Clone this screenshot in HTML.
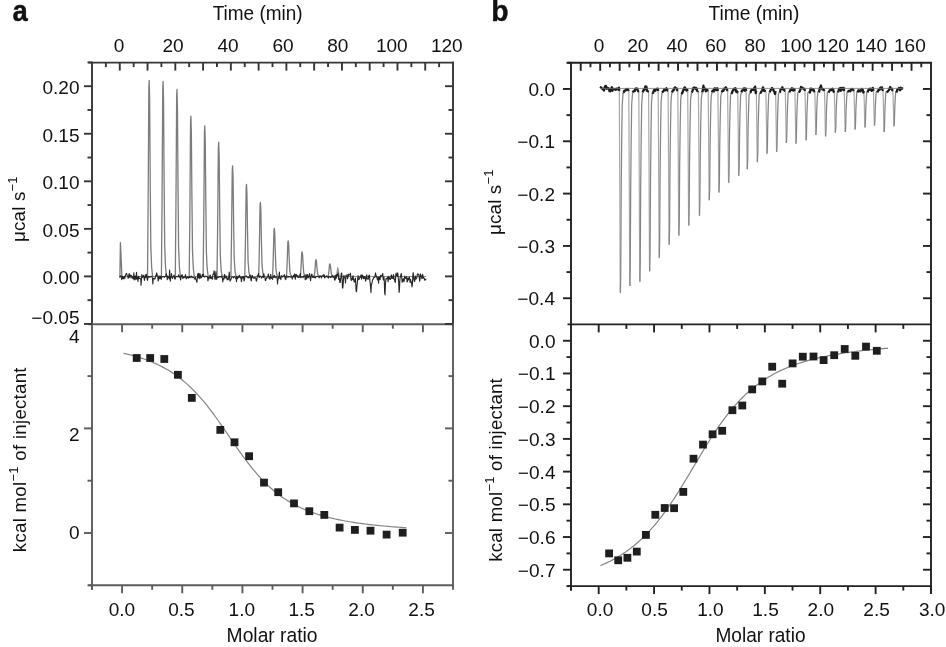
<!DOCTYPE html>
<html><head><meta charset="utf-8"><style>
html,body{margin:0;padding:0;background:#fff;}
svg{display:block;filter:blur(0.35px);}
text{font-family:"Liberation Sans", sans-serif;}
</style></head><body>
<svg width="946" height="647" viewBox="0 0 946 647">
<rect width="946" height="647" fill="#fff"/>
<g stroke-linecap="butt">
<line x1="88.50" y1="62.60" x2="453.90" y2="62.60" stroke="#363636" stroke-width="1.9" />
<line x1="92.00" y1="61.70" x2="92.00" y2="324.20" stroke="#363636" stroke-width="1.9" />
<line x1="453.00" y1="61.70" x2="453.00" y2="324.20" stroke="#363636" stroke-width="1.9" />
<line x1="92.00" y1="324.20" x2="92.00" y2="589.80" stroke="#5c5c5c" stroke-width="1.9" />
<line x1="453.00" y1="324.20" x2="453.00" y2="586.20" stroke="#5c5c5c" stroke-width="1.9" />
<line x1="88.50" y1="324.20" x2="453.90" y2="324.20" stroke="#5c5c5c" stroke-width="1.9" />
<line x1="88.50" y1="585.30" x2="453.90" y2="585.30" stroke="#5c5c5c" stroke-width="1.9" />
<line x1="105.88" y1="62.60" x2="105.88" y2="67.10" stroke="#363636" stroke-width="1.9" />
<line x1="119.77" y1="62.60" x2="119.77" y2="70.60" stroke="#363636" stroke-width="1.9" />
<line x1="133.65" y1="62.60" x2="133.65" y2="67.10" stroke="#363636" stroke-width="1.9" />
<line x1="147.54" y1="62.60" x2="147.54" y2="70.60" stroke="#363636" stroke-width="1.9" />
<line x1="161.42" y1="62.60" x2="161.42" y2="67.10" stroke="#363636" stroke-width="1.9" />
<line x1="175.31" y1="62.60" x2="175.31" y2="70.60" stroke="#363636" stroke-width="1.9" />
<line x1="189.19" y1="62.60" x2="189.19" y2="67.10" stroke="#363636" stroke-width="1.9" />
<line x1="203.08" y1="62.60" x2="203.08" y2="70.60" stroke="#363636" stroke-width="1.9" />
<line x1="216.96" y1="62.60" x2="216.96" y2="67.10" stroke="#363636" stroke-width="1.9" />
<line x1="230.85" y1="62.60" x2="230.85" y2="70.60" stroke="#363636" stroke-width="1.9" />
<line x1="244.73" y1="62.60" x2="244.73" y2="67.10" stroke="#363636" stroke-width="1.9" />
<line x1="258.62" y1="62.60" x2="258.62" y2="70.60" stroke="#363636" stroke-width="1.9" />
<line x1="272.50" y1="62.60" x2="272.50" y2="67.10" stroke="#363636" stroke-width="1.9" />
<line x1="286.38" y1="62.60" x2="286.38" y2="70.60" stroke="#363636" stroke-width="1.9" />
<line x1="300.27" y1="62.60" x2="300.27" y2="67.10" stroke="#363636" stroke-width="1.9" />
<line x1="314.15" y1="62.60" x2="314.15" y2="70.60" stroke="#363636" stroke-width="1.9" />
<line x1="328.04" y1="62.60" x2="328.04" y2="67.10" stroke="#363636" stroke-width="1.9" />
<line x1="341.92" y1="62.60" x2="341.92" y2="70.60" stroke="#363636" stroke-width="1.9" />
<line x1="355.81" y1="62.60" x2="355.81" y2="67.10" stroke="#363636" stroke-width="1.9" />
<line x1="369.69" y1="62.60" x2="369.69" y2="70.60" stroke="#363636" stroke-width="1.9" />
<line x1="383.58" y1="62.60" x2="383.58" y2="67.10" stroke="#363636" stroke-width="1.9" />
<line x1="397.46" y1="62.60" x2="397.46" y2="70.60" stroke="#363636" stroke-width="1.9" />
<line x1="411.35" y1="62.60" x2="411.35" y2="67.10" stroke="#363636" stroke-width="1.9" />
<line x1="425.23" y1="62.60" x2="425.23" y2="70.60" stroke="#363636" stroke-width="1.9" />
<line x1="439.12" y1="62.60" x2="439.12" y2="67.10" stroke="#363636" stroke-width="1.9" />
<line x1="84.00" y1="323.95" x2="92.00" y2="323.95" stroke="#363636" stroke-width="1.9" />
<line x1="445.00" y1="323.95" x2="453.00" y2="323.95" stroke="#363636" stroke-width="1.9" />
<line x1="87.50" y1="300.17" x2="92.00" y2="300.17" stroke="#363636" stroke-width="1.9" />
<line x1="448.50" y1="300.17" x2="453.00" y2="300.17" stroke="#363636" stroke-width="1.9" />
<line x1="84.00" y1="276.40" x2="92.00" y2="276.40" stroke="#363636" stroke-width="1.9" />
<line x1="445.00" y1="276.40" x2="453.00" y2="276.40" stroke="#363636" stroke-width="1.9" />
<line x1="87.50" y1="252.62" x2="92.00" y2="252.62" stroke="#363636" stroke-width="1.9" />
<line x1="448.50" y1="252.62" x2="453.00" y2="252.62" stroke="#363636" stroke-width="1.9" />
<line x1="84.00" y1="228.85" x2="92.00" y2="228.85" stroke="#363636" stroke-width="1.9" />
<line x1="445.00" y1="228.85" x2="453.00" y2="228.85" stroke="#363636" stroke-width="1.9" />
<line x1="87.50" y1="205.07" x2="92.00" y2="205.07" stroke="#363636" stroke-width="1.9" />
<line x1="448.50" y1="205.07" x2="453.00" y2="205.07" stroke="#363636" stroke-width="1.9" />
<line x1="84.00" y1="181.30" x2="92.00" y2="181.30" stroke="#363636" stroke-width="1.9" />
<line x1="445.00" y1="181.30" x2="453.00" y2="181.30" stroke="#363636" stroke-width="1.9" />
<line x1="87.50" y1="157.52" x2="92.00" y2="157.52" stroke="#363636" stroke-width="1.9" />
<line x1="448.50" y1="157.52" x2="453.00" y2="157.52" stroke="#363636" stroke-width="1.9" />
<line x1="84.00" y1="133.75" x2="92.00" y2="133.75" stroke="#363636" stroke-width="1.9" />
<line x1="445.00" y1="133.75" x2="453.00" y2="133.75" stroke="#363636" stroke-width="1.9" />
<line x1="87.50" y1="109.97" x2="92.00" y2="109.97" stroke="#363636" stroke-width="1.9" />
<line x1="448.50" y1="109.97" x2="453.00" y2="109.97" stroke="#363636" stroke-width="1.9" />
<line x1="84.00" y1="86.20" x2="92.00" y2="86.20" stroke="#363636" stroke-width="1.9" />
<line x1="445.00" y1="86.20" x2="453.00" y2="86.20" stroke="#363636" stroke-width="1.9" />
<line x1="87.50" y1="62.42" x2="92.00" y2="62.42" stroke="#363636" stroke-width="1.9" />
<line x1="92.00" y1="585.30" x2="92.00" y2="589.80" stroke="#5c5c5c" stroke-width="1.9" />
<line x1="122.08" y1="324.20" x2="122.08" y2="332.20" stroke="#5c5c5c" stroke-width="1.9" />
<line x1="122.08" y1="585.30" x2="122.08" y2="593.30" stroke="#5c5c5c" stroke-width="1.9" />
<line x1="152.17" y1="324.20" x2="152.17" y2="328.70" stroke="#5c5c5c" stroke-width="1.9" />
<line x1="152.17" y1="585.30" x2="152.17" y2="589.80" stroke="#5c5c5c" stroke-width="1.9" />
<line x1="182.25" y1="324.20" x2="182.25" y2="332.20" stroke="#5c5c5c" stroke-width="1.9" />
<line x1="182.25" y1="585.30" x2="182.25" y2="593.30" stroke="#5c5c5c" stroke-width="1.9" />
<line x1="212.33" y1="324.20" x2="212.33" y2="328.70" stroke="#5c5c5c" stroke-width="1.9" />
<line x1="212.33" y1="585.30" x2="212.33" y2="589.80" stroke="#5c5c5c" stroke-width="1.9" />
<line x1="242.42" y1="324.20" x2="242.42" y2="332.20" stroke="#5c5c5c" stroke-width="1.9" />
<line x1="242.42" y1="585.30" x2="242.42" y2="593.30" stroke="#5c5c5c" stroke-width="1.9" />
<line x1="272.50" y1="324.20" x2="272.50" y2="328.70" stroke="#5c5c5c" stroke-width="1.9" />
<line x1="272.50" y1="585.30" x2="272.50" y2="589.80" stroke="#5c5c5c" stroke-width="1.9" />
<line x1="302.58" y1="324.20" x2="302.58" y2="332.20" stroke="#5c5c5c" stroke-width="1.9" />
<line x1="302.58" y1="585.30" x2="302.58" y2="593.30" stroke="#5c5c5c" stroke-width="1.9" />
<line x1="332.67" y1="324.20" x2="332.67" y2="328.70" stroke="#5c5c5c" stroke-width="1.9" />
<line x1="332.67" y1="585.30" x2="332.67" y2="589.80" stroke="#5c5c5c" stroke-width="1.9" />
<line x1="362.75" y1="324.20" x2="362.75" y2="332.20" stroke="#5c5c5c" stroke-width="1.9" />
<line x1="362.75" y1="585.30" x2="362.75" y2="593.30" stroke="#5c5c5c" stroke-width="1.9" />
<line x1="392.83" y1="324.20" x2="392.83" y2="328.70" stroke="#5c5c5c" stroke-width="1.9" />
<line x1="392.83" y1="585.30" x2="392.83" y2="589.80" stroke="#5c5c5c" stroke-width="1.9" />
<line x1="422.92" y1="324.20" x2="422.92" y2="332.20" stroke="#5c5c5c" stroke-width="1.9" />
<line x1="422.92" y1="585.30" x2="422.92" y2="593.30" stroke="#5c5c5c" stroke-width="1.9" />
<line x1="453.00" y1="585.30" x2="453.00" y2="589.80" stroke="#5c5c5c" stroke-width="1.9" />
<line x1="87.50" y1="585.30" x2="92.00" y2="585.30" stroke="#5c5c5c" stroke-width="1.9" />
<line x1="84.00" y1="533.00" x2="92.00" y2="533.00" stroke="#5c5c5c" stroke-width="1.9" />
<line x1="445.00" y1="533.00" x2="453.00" y2="533.00" stroke="#5c5c5c" stroke-width="1.9" />
<line x1="87.50" y1="480.70" x2="92.00" y2="480.70" stroke="#5c5c5c" stroke-width="1.9" />
<line x1="448.50" y1="480.70" x2="453.00" y2="480.70" stroke="#5c5c5c" stroke-width="1.9" />
<line x1="84.00" y1="428.40" x2="92.00" y2="428.40" stroke="#5c5c5c" stroke-width="1.9" />
<line x1="445.00" y1="428.40" x2="453.00" y2="428.40" stroke="#5c5c5c" stroke-width="1.9" />
<line x1="87.50" y1="376.10" x2="92.00" y2="376.10" stroke="#5c5c5c" stroke-width="1.9" />
<line x1="448.50" y1="376.10" x2="453.00" y2="376.10" stroke="#5c5c5c" stroke-width="1.9" />
</g>
<g stroke-linecap="butt">
<line x1="567.50" y1="62.80" x2="931.90" y2="62.80" stroke="#222" stroke-width="1.9" />
<line x1="571.00" y1="61.90" x2="571.00" y2="590.60" stroke="#222" stroke-width="1.9" />
<line x1="931.00" y1="61.90" x2="931.00" y2="593.60" stroke="#222" stroke-width="1.9" />
<line x1="567.50" y1="324.40" x2="931.90" y2="324.40" stroke="#222" stroke-width="1.9" />
<line x1="567.50" y1="586.10" x2="931.90" y2="586.10" stroke="#222" stroke-width="1.9" />
<line x1="580.73" y1="62.80" x2="580.73" y2="70.80" stroke="#222" stroke-width="1.9" />
<line x1="590.46" y1="62.80" x2="590.46" y2="67.30" stroke="#222" stroke-width="1.9" />
<line x1="600.19" y1="62.80" x2="600.19" y2="70.80" stroke="#222" stroke-width="1.9" />
<line x1="609.92" y1="62.80" x2="609.92" y2="67.30" stroke="#222" stroke-width="1.9" />
<line x1="619.65" y1="62.80" x2="619.65" y2="70.80" stroke="#222" stroke-width="1.9" />
<line x1="629.38" y1="62.80" x2="629.38" y2="67.30" stroke="#222" stroke-width="1.9" />
<line x1="639.11" y1="62.80" x2="639.11" y2="70.80" stroke="#222" stroke-width="1.9" />
<line x1="648.84" y1="62.80" x2="648.84" y2="67.30" stroke="#222" stroke-width="1.9" />
<line x1="658.57" y1="62.80" x2="658.57" y2="70.80" stroke="#222" stroke-width="1.9" />
<line x1="668.30" y1="62.80" x2="668.30" y2="67.30" stroke="#222" stroke-width="1.9" />
<line x1="678.03" y1="62.80" x2="678.03" y2="70.80" stroke="#222" stroke-width="1.9" />
<line x1="687.76" y1="62.80" x2="687.76" y2="67.30" stroke="#222" stroke-width="1.9" />
<line x1="697.49" y1="62.80" x2="697.49" y2="70.80" stroke="#222" stroke-width="1.9" />
<line x1="707.22" y1="62.80" x2="707.22" y2="67.30" stroke="#222" stroke-width="1.9" />
<line x1="716.95" y1="62.80" x2="716.95" y2="70.80" stroke="#222" stroke-width="1.9" />
<line x1="726.68" y1="62.80" x2="726.68" y2="67.30" stroke="#222" stroke-width="1.9" />
<line x1="736.41" y1="62.80" x2="736.41" y2="70.80" stroke="#222" stroke-width="1.9" />
<line x1="746.14" y1="62.80" x2="746.14" y2="67.30" stroke="#222" stroke-width="1.9" />
<line x1="755.86" y1="62.80" x2="755.86" y2="70.80" stroke="#222" stroke-width="1.9" />
<line x1="765.59" y1="62.80" x2="765.59" y2="67.30" stroke="#222" stroke-width="1.9" />
<line x1="775.32" y1="62.80" x2="775.32" y2="70.80" stroke="#222" stroke-width="1.9" />
<line x1="785.05" y1="62.80" x2="785.05" y2="67.30" stroke="#222" stroke-width="1.9" />
<line x1="794.78" y1="62.80" x2="794.78" y2="70.80" stroke="#222" stroke-width="1.9" />
<line x1="804.51" y1="62.80" x2="804.51" y2="67.30" stroke="#222" stroke-width="1.9" />
<line x1="814.24" y1="62.80" x2="814.24" y2="70.80" stroke="#222" stroke-width="1.9" />
<line x1="823.97" y1="62.80" x2="823.97" y2="67.30" stroke="#222" stroke-width="1.9" />
<line x1="833.70" y1="62.80" x2="833.70" y2="70.80" stroke="#222" stroke-width="1.9" />
<line x1="843.43" y1="62.80" x2="843.43" y2="67.30" stroke="#222" stroke-width="1.9" />
<line x1="853.16" y1="62.80" x2="853.16" y2="70.80" stroke="#222" stroke-width="1.9" />
<line x1="862.89" y1="62.80" x2="862.89" y2="67.30" stroke="#222" stroke-width="1.9" />
<line x1="872.62" y1="62.80" x2="872.62" y2="70.80" stroke="#222" stroke-width="1.9" />
<line x1="882.35" y1="62.80" x2="882.35" y2="67.30" stroke="#222" stroke-width="1.9" />
<line x1="892.08" y1="62.80" x2="892.08" y2="70.80" stroke="#222" stroke-width="1.9" />
<line x1="901.81" y1="62.80" x2="901.81" y2="67.30" stroke="#222" stroke-width="1.9" />
<line x1="911.54" y1="62.80" x2="911.54" y2="70.80" stroke="#222" stroke-width="1.9" />
<line x1="921.27" y1="62.80" x2="921.27" y2="67.30" stroke="#222" stroke-width="1.9" />
<line x1="563.00" y1="298.24" x2="571.00" y2="298.24" stroke="#222" stroke-width="1.9" />
<line x1="923.00" y1="298.24" x2="931.00" y2="298.24" stroke="#222" stroke-width="1.9" />
<line x1="566.50" y1="272.08" x2="571.00" y2="272.08" stroke="#222" stroke-width="1.9" />
<line x1="926.50" y1="272.08" x2="931.00" y2="272.08" stroke="#222" stroke-width="1.9" />
<line x1="563.00" y1="245.92" x2="571.00" y2="245.92" stroke="#222" stroke-width="1.9" />
<line x1="923.00" y1="245.92" x2="931.00" y2="245.92" stroke="#222" stroke-width="1.9" />
<line x1="566.50" y1="219.76" x2="571.00" y2="219.76" stroke="#222" stroke-width="1.9" />
<line x1="926.50" y1="219.76" x2="931.00" y2="219.76" stroke="#222" stroke-width="1.9" />
<line x1="563.00" y1="193.60" x2="571.00" y2="193.60" stroke="#222" stroke-width="1.9" />
<line x1="923.00" y1="193.60" x2="931.00" y2="193.60" stroke="#222" stroke-width="1.9" />
<line x1="566.50" y1="167.44" x2="571.00" y2="167.44" stroke="#222" stroke-width="1.9" />
<line x1="926.50" y1="167.44" x2="931.00" y2="167.44" stroke="#222" stroke-width="1.9" />
<line x1="563.00" y1="141.28" x2="571.00" y2="141.28" stroke="#222" stroke-width="1.9" />
<line x1="923.00" y1="141.28" x2="931.00" y2="141.28" stroke="#222" stroke-width="1.9" />
<line x1="566.50" y1="115.12" x2="571.00" y2="115.12" stroke="#222" stroke-width="1.9" />
<line x1="926.50" y1="115.12" x2="931.00" y2="115.12" stroke="#222" stroke-width="1.9" />
<line x1="563.00" y1="88.96" x2="571.00" y2="88.96" stroke="#222" stroke-width="1.9" />
<line x1="923.00" y1="88.96" x2="931.00" y2="88.96" stroke="#222" stroke-width="1.9" />
<line x1="566.50" y1="62.80" x2="571.00" y2="62.80" stroke="#222" stroke-width="1.9" />
<line x1="571.00" y1="586.10" x2="571.00" y2="590.60" stroke="#222" stroke-width="1.9" />
<line x1="598.69" y1="324.40" x2="598.69" y2="332.40" stroke="#222" stroke-width="1.9" />
<line x1="598.69" y1="586.10" x2="598.69" y2="594.10" stroke="#222" stroke-width="1.9" />
<line x1="626.38" y1="324.40" x2="626.38" y2="328.90" stroke="#222" stroke-width="1.9" />
<line x1="626.38" y1="586.10" x2="626.38" y2="590.60" stroke="#222" stroke-width="1.9" />
<line x1="654.08" y1="324.40" x2="654.08" y2="332.40" stroke="#222" stroke-width="1.9" />
<line x1="654.08" y1="586.10" x2="654.08" y2="594.10" stroke="#222" stroke-width="1.9" />
<line x1="681.77" y1="324.40" x2="681.77" y2="328.90" stroke="#222" stroke-width="1.9" />
<line x1="681.77" y1="586.10" x2="681.77" y2="590.60" stroke="#222" stroke-width="1.9" />
<line x1="709.46" y1="324.40" x2="709.46" y2="332.40" stroke="#222" stroke-width="1.9" />
<line x1="709.46" y1="586.10" x2="709.46" y2="594.10" stroke="#222" stroke-width="1.9" />
<line x1="737.15" y1="324.40" x2="737.15" y2="328.90" stroke="#222" stroke-width="1.9" />
<line x1="737.15" y1="586.10" x2="737.15" y2="590.60" stroke="#222" stroke-width="1.9" />
<line x1="764.85" y1="324.40" x2="764.85" y2="332.40" stroke="#222" stroke-width="1.9" />
<line x1="764.85" y1="586.10" x2="764.85" y2="594.10" stroke="#222" stroke-width="1.9" />
<line x1="792.54" y1="324.40" x2="792.54" y2="328.90" stroke="#222" stroke-width="1.9" />
<line x1="792.54" y1="586.10" x2="792.54" y2="590.60" stroke="#222" stroke-width="1.9" />
<line x1="820.23" y1="324.40" x2="820.23" y2="332.40" stroke="#222" stroke-width="1.9" />
<line x1="820.23" y1="586.10" x2="820.23" y2="594.10" stroke="#222" stroke-width="1.9" />
<line x1="847.92" y1="324.40" x2="847.92" y2="328.90" stroke="#222" stroke-width="1.9" />
<line x1="847.92" y1="586.10" x2="847.92" y2="590.60" stroke="#222" stroke-width="1.9" />
<line x1="875.62" y1="324.40" x2="875.62" y2="332.40" stroke="#222" stroke-width="1.9" />
<line x1="875.62" y1="586.10" x2="875.62" y2="594.10" stroke="#222" stroke-width="1.9" />
<line x1="903.31" y1="324.40" x2="903.31" y2="328.90" stroke="#222" stroke-width="1.9" />
<line x1="903.31" y1="586.10" x2="903.31" y2="590.60" stroke="#222" stroke-width="1.9" />
<line x1="931.00" y1="586.10" x2="931.00" y2="594.10" stroke="#222" stroke-width="1.9" />
<line x1="566.50" y1="586.10" x2="571.00" y2="586.10" stroke="#222" stroke-width="1.9" />
<line x1="563.00" y1="569.74" x2="571.00" y2="569.74" stroke="#222" stroke-width="1.9" />
<line x1="923.00" y1="569.74" x2="931.00" y2="569.74" stroke="#222" stroke-width="1.9" />
<line x1="566.50" y1="553.39" x2="571.00" y2="553.39" stroke="#222" stroke-width="1.9" />
<line x1="926.50" y1="553.39" x2="931.00" y2="553.39" stroke="#222" stroke-width="1.9" />
<line x1="563.00" y1="537.03" x2="571.00" y2="537.03" stroke="#222" stroke-width="1.9" />
<line x1="923.00" y1="537.03" x2="931.00" y2="537.03" stroke="#222" stroke-width="1.9" />
<line x1="566.50" y1="520.67" x2="571.00" y2="520.67" stroke="#222" stroke-width="1.9" />
<line x1="926.50" y1="520.67" x2="931.00" y2="520.67" stroke="#222" stroke-width="1.9" />
<line x1="563.00" y1="504.32" x2="571.00" y2="504.32" stroke="#222" stroke-width="1.9" />
<line x1="923.00" y1="504.32" x2="931.00" y2="504.32" stroke="#222" stroke-width="1.9" />
<line x1="566.50" y1="487.96" x2="571.00" y2="487.96" stroke="#222" stroke-width="1.9" />
<line x1="926.50" y1="487.96" x2="931.00" y2="487.96" stroke="#222" stroke-width="1.9" />
<line x1="563.00" y1="471.61" x2="571.00" y2="471.61" stroke="#222" stroke-width="1.9" />
<line x1="923.00" y1="471.61" x2="931.00" y2="471.61" stroke="#222" stroke-width="1.9" />
<line x1="566.50" y1="455.25" x2="571.00" y2="455.25" stroke="#222" stroke-width="1.9" />
<line x1="926.50" y1="455.25" x2="931.00" y2="455.25" stroke="#222" stroke-width="1.9" />
<line x1="563.00" y1="438.89" x2="571.00" y2="438.89" stroke="#222" stroke-width="1.9" />
<line x1="923.00" y1="438.89" x2="931.00" y2="438.89" stroke="#222" stroke-width="1.9" />
<line x1="566.50" y1="422.54" x2="571.00" y2="422.54" stroke="#222" stroke-width="1.9" />
<line x1="926.50" y1="422.54" x2="931.00" y2="422.54" stroke="#222" stroke-width="1.9" />
<line x1="563.00" y1="406.18" x2="571.00" y2="406.18" stroke="#222" stroke-width="1.9" />
<line x1="923.00" y1="406.18" x2="931.00" y2="406.18" stroke="#222" stroke-width="1.9" />
<line x1="566.50" y1="389.82" x2="571.00" y2="389.82" stroke="#222" stroke-width="1.9" />
<line x1="926.50" y1="389.82" x2="931.00" y2="389.82" stroke="#222" stroke-width="1.9" />
<line x1="563.00" y1="373.47" x2="571.00" y2="373.47" stroke="#222" stroke-width="1.9" />
<line x1="923.00" y1="373.47" x2="931.00" y2="373.47" stroke="#222" stroke-width="1.9" />
<line x1="566.50" y1="357.11" x2="571.00" y2="357.11" stroke="#222" stroke-width="1.9" />
<line x1="926.50" y1="357.11" x2="931.00" y2="357.11" stroke="#222" stroke-width="1.9" />
<line x1="563.00" y1="340.76" x2="571.00" y2="340.76" stroke="#222" stroke-width="1.9" />
<line x1="923.00" y1="340.76" x2="931.00" y2="340.76" stroke="#222" stroke-width="1.9" />
</g>
<path d="M147.50,277.00 L148.10,207.90 L148.85,88.34 L149.20,80.50 L149.65,100.10 L150.20,178.50 L150.80,245.14 L151.60,266.70 L152.60,276.50" fill="none" stroke="#7c7c7c" stroke-width="1.3" stroke-linejoin="round" />
<path d="M161.40,277.00 L162.00,208.25 L162.75,89.30 L163.10,81.50 L163.55,101.00 L164.10,179.00 L164.70,245.30 L165.50,266.75 L166.50,276.50" fill="none" stroke="#7c7c7c" stroke-width="1.3" stroke-linejoin="round" />
<path d="M175.30,277.00 L175.90,211.05 L176.65,96.98 L177.00,89.50 L177.45,108.20 L178.00,183.00 L178.60,246.58 L179.40,267.15 L180.40,276.50" fill="none" stroke="#7c7c7c" stroke-width="1.3" stroke-linejoin="round" />
<path d="M189.20,277.00 L189.80,220.40 L190.55,122.61 L190.90,116.20 L191.35,132.23 L191.90,196.35 L192.50,250.85 L193.30,268.49 L194.30,276.50" fill="none" stroke="#7c7c7c" stroke-width="1.3" stroke-linejoin="round" />
<path d="M203.10,277.00 L203.70,223.75 L204.45,131.83 L204.80,125.80 L205.25,140.87 L205.80,201.15 L206.40,252.39 L207.20,268.96 L208.20,276.50" fill="none" stroke="#7c7c7c" stroke-width="1.3" stroke-linejoin="round" />
<path d="M217.00,277.00 L217.60,229.50 L218.35,147.57 L218.70,142.20 L219.15,155.63 L219.70,209.35 L220.30,255.01 L221.10,269.79 L222.10,276.50" fill="none" stroke="#7c7c7c" stroke-width="1.3" stroke-linejoin="round" />
<path d="M230.90,277.00 L231.50,237.75 L232.25,170.23 L232.60,165.80 L233.05,176.87 L233.60,221.15 L234.20,258.79 L235.00,270.96 L236.00,276.50" fill="none" stroke="#7c7c7c" stroke-width="1.3" stroke-linejoin="round" />
<path d="M244.80,277.00 L245.40,244.23 L246.15,187.99 L246.50,184.30 L246.95,193.52 L247.50,230.40 L248.10,261.75 L248.90,271.89 L249.90,276.50" fill="none" stroke="#7c7c7c" stroke-width="1.3" stroke-linejoin="round" />
<path d="M258.70,277.00 L259.30,250.60 L260.05,205.46 L260.40,202.50 L260.85,209.90 L261.40,239.50 L262.00,264.66 L262.80,272.80 L263.80,276.50" fill="none" stroke="#7c7c7c" stroke-width="1.3" stroke-linejoin="round" />
<path d="M272.60,277.00 L273.20,259.63 L273.95,230.23 L274.30,228.30 L274.75,233.12 L275.30,252.40 L275.90,268.79 L276.70,274.09 L277.70,276.50" fill="none" stroke="#7c7c7c" stroke-width="1.3" stroke-linejoin="round" />
<path d="M286.50,277.00 L287.10,264.00 L287.85,242.23 L288.20,240.80 L288.65,244.37 L289.20,258.65 L289.80,270.79 L290.60,274.71 L291.60,276.50" fill="none" stroke="#7c7c7c" stroke-width="1.3" stroke-linejoin="round" />
<path d="M300.40,277.00 L301.00,267.86 L301.75,252.79 L302.10,251.80 L302.55,254.27 L303.10,264.15 L303.70,272.55 L304.50,275.26 L305.50,276.50" fill="none" stroke="#7c7c7c" stroke-width="1.3" stroke-linejoin="round" />
<path d="M314.30,277.00 L314.90,270.62 L315.65,260.37 L316.00,259.70 L316.45,261.38 L317.00,268.10 L317.60,273.81 L318.40,275.66 L319.40,276.50" fill="none" stroke="#7c7c7c" stroke-width="1.3" stroke-linejoin="round" />
<path d="M328.20,277.00 L328.80,272.09 L329.55,264.40 L329.90,263.90 L330.35,265.16 L330.90,270.20 L331.50,274.48 L332.30,275.87 L333.30,276.50" fill="none" stroke="#7c7c7c" stroke-width="1.3" stroke-linejoin="round" />
<path d="M336.60,276.50 L337.40,270.00 L337.80,267.90 L338.40,271.00 L339.30,276.50" fill="none" stroke="#8c8c8c" stroke-width="1.2" stroke-linejoin="round" />
<path d="M119.90,277.50 L120.40,242.60 L121.00,255.00 L121.90,276.50" fill="none" stroke="#7a7a7a" stroke-width="1.3" stroke-linejoin="round" />
<line x1="119.80" y1="276.50" x2="426.20" y2="276.50" stroke="#777" stroke-width="0.8" />
<path d="M119.80,277.73 L120.18,276.14 L120.56,275.89 L120.94,275.76 L121.32,276.45 L121.70,279.58 L122.08,278.84 L122.46,276.21 L122.84,277.52 L123.22,278.84 L123.60,278.32 L123.98,276.59 L124.36,276.27 L124.74,278.59 L125.12,276.83 L125.50,275.28 L125.88,274.53 L126.26,273.41 L126.64,273.49 L127.02,274.91 L127.40,275.68 L127.78,276.36 L128.16,278.28 L128.54,277.66 L128.92,274.07 L129.30,273.59 L129.68,276.91 L130.06,277.79 L130.44,275.80 L130.82,275.00 L131.20,275.74 L131.58,275.67 L131.96,278.04 L132.34,278.04 L132.72,276.57 L133.10,278.84 L133.48,278.10 L133.86,272.68 L134.24,279.97 L134.62,277.93 L135.00,276.14 L135.38,276.16 L135.76,279.63 L136.14,277.45 L136.52,272.40 L136.90,279.01 L137.28,277.00 L137.66,279.53 L138.04,281.41 L138.42,276.31 L138.80,276.19 L139.18,278.57 L139.56,278.22 L139.94,278.36 L140.32,278.53 L140.70,278.51 L141.08,285.22 L141.46,278.72 L141.84,274.57 L142.22,277.35 L142.60,277.25 L142.98,276.28 L143.36,275.33 L143.74,276.66 L144.12,278.64 L144.50,280.45 L144.88,277.46 L145.26,274.85 L145.64,277.50 L146.02,275.89 L146.40,274.40 L146.78,276.95 L147.16,279.26 L147.54,280.32 L147.92,277.01 L148.30,276.58 L148.68,276.61 L149.06,277.37 L149.44,276.75 L149.82,276.57 L150.20,276.88 L150.58,276.95 L150.96,276.73 L151.34,276.33 L151.72,276.41 L152.10,276.68 L152.48,278.67 L152.86,284.01 L153.24,278.54 L153.62,278.57 L154.00,278.14 L154.38,278.66 L154.76,279.11 L155.14,278.48 L155.52,276.75 L155.90,275.05 L156.28,275.90 L156.66,272.70 L157.04,274.56 L157.42,276.08 L157.80,276.71 L158.18,280.94 L158.56,279.60 L158.94,275.74 L159.32,277.14 L159.70,278.64 L160.08,278.13 L160.46,276.12 L160.84,278.37 L161.22,279.34 L161.60,277.81 L161.98,276.41 L162.36,276.84 L162.74,276.45 L163.12,276.54 L163.50,276.62 L163.88,276.91 L164.26,277.33 L164.64,276.97 L165.02,276.66 L165.40,276.57 L165.78,276.01 L166.16,273.50 L166.54,276.67 L166.92,275.33 L167.30,279.75 L167.68,276.49 L168.06,276.37 L168.44,277.58 L168.82,277.61 L169.20,278.92 L169.58,270.00 L169.96,277.31 L170.34,281.32 L170.72,276.57 L171.10,277.24 L171.48,273.50 L171.86,276.18 L172.24,277.87 L172.62,278.45 L173.00,276.90 L173.38,276.57 L173.76,275.79 L174.14,275.14 L174.52,277.67 L174.90,279.18 L175.28,278.79 L175.66,277.25 L176.04,276.59 L176.42,276.45 L176.80,276.50 L177.18,276.64 L177.56,276.71 L177.94,276.59 L178.32,276.18 L178.70,274.81 L179.08,277.20 L179.46,277.26 L179.84,276.16 L180.22,276.74 L180.60,280.04 L180.98,277.64 L181.36,275.47 L181.74,276.57 L182.12,274.48 L182.50,276.32 L182.88,278.66 L183.26,277.76 L183.64,276.79 L184.02,277.30 L184.40,277.59 L184.78,276.78 L185.16,276.02 L185.54,274.58 L185.92,277.86 L186.30,278.81 L186.68,277.41 L187.06,278.05 L187.44,277.06 L187.82,276.42 L188.20,277.86 L188.58,278.14 L188.96,277.09 L189.34,277.53 L189.72,276.42 L190.10,277.61 L190.48,277.29 L190.86,276.79 L191.24,276.08 L191.62,276.69 L192.00,277.63 L192.38,277.19 L192.76,277.02 L193.14,277.39 L193.52,277.51 L193.90,277.57 L194.28,278.33 L194.66,279.12 L195.04,278.06 L195.42,277.18 L195.80,279.52 L196.18,279.54 L196.56,281.40 L196.94,282.22 L197.32,278.16 L197.70,273.89 L198.08,276.53 L198.46,277.43 L198.84,273.30 L199.22,278.81 L199.60,276.62 L199.98,273.74 L200.36,275.21 L200.74,278.11 L201.12,277.43 L201.50,277.42 L201.88,276.60 L202.26,274.51 L202.64,275.44 L203.02,276.17 L203.40,274.19 L203.78,276.40 L204.16,277.04 L204.54,277.00 L204.92,276.63 L205.30,276.20 L205.68,276.19 L206.06,276.10 L206.44,276.58 L206.82,276.62 L207.20,276.69 L207.58,277.14 L207.96,280.88 L208.34,278.55 L208.72,277.02 L209.10,278.77 L209.48,277.56 L209.86,275.73 L210.24,275.13 L210.62,278.08 L211.00,278.59 L211.38,277.70 L211.76,277.42 L212.14,278.86 L212.52,279.22 L212.90,274.71 L213.28,273.81 L213.66,274.13 L214.04,270.69 L214.42,272.62 L214.80,278.78 L215.18,279.55 L215.56,276.19 L215.94,271.67 L216.32,277.96 L216.70,279.43 L217.08,277.98 L217.46,276.86 L217.84,276.99 L218.22,277.20 L218.60,277.41 L218.98,277.17 L219.36,276.53 L219.74,276.65 L220.12,276.79 L220.50,277.03 L220.88,276.79 L221.26,276.29 L221.64,277.23 L222.02,275.91 L222.40,278.23 L222.78,281.98 L223.16,279.04 L223.54,278.11 L223.92,279.25 L224.30,274.70 L224.68,274.53 L225.06,277.95 L225.44,277.73 L225.82,276.37 L226.20,275.89 L226.58,277.10 L226.96,279.06 L227.34,279.75 L227.72,278.14 L228.10,279.75 L228.48,279.01 L228.86,276.43 L229.24,272.12 L229.62,277.37 L230.00,281.10 L230.38,280.23 L230.76,279.83 L231.14,278.75 L231.52,276.99 L231.90,276.85 L232.28,276.68 L232.66,276.80 L233.04,277.49 L233.42,277.83 L233.80,277.06 L234.18,276.60 L234.56,276.37 L234.94,277.25 L235.32,277.71 L235.70,278.47 L236.08,277.33 L236.46,281.62 L236.84,276.12 L237.22,278.78 L237.60,278.35 L237.98,276.87 L238.36,277.10 L238.74,277.55 L239.12,275.71 L239.50,275.24 L239.88,276.24 L240.26,277.74 L240.64,277.85 L241.02,277.44 L241.40,281.68 L241.78,279.33 L242.16,276.47 L242.54,277.15 L242.92,277.95 L243.30,276.36 L243.68,276.98 L244.06,281.03 L244.44,280.06 L244.82,277.08 L245.20,276.36 L245.58,276.57 L245.96,276.49 L246.34,275.91 L246.72,276.93 L247.10,277.01 L247.48,276.93 L247.86,277.91 L248.24,277.58 L248.62,277.19 L249.00,277.87 L249.38,277.57 L249.76,276.64 L250.14,275.09 L250.52,275.94 L250.90,279.74 L251.28,280.98 L251.66,277.72 L252.04,275.29 L252.42,275.87 L252.80,277.42 L253.18,277.82 L253.56,277.71 L253.94,278.39 L254.32,277.70 L254.70,277.24 L255.08,277.92 L255.46,277.86 L255.84,278.26 L256.22,280.89 L256.60,281.01 L256.98,278.57 L257.36,275.51 L257.74,275.96 L258.12,275.61 L258.50,273.19 L258.88,276.96 L259.26,277.49 L259.64,277.08 L260.02,276.11 L260.40,276.02 L260.78,276.44 L261.16,276.84 L261.54,278.03 L261.92,277.86 L262.30,276.63 L262.68,276.07 L263.06,276.37 L263.44,277.39 L263.82,273.63 L264.20,276.31 L264.58,276.31 L264.96,277.65 L265.34,280.39 L265.72,280.59 L266.10,278.52 L266.48,277.75 L266.86,278.21 L267.24,277.00 L267.62,276.72 L268.00,275.50 L268.38,274.01 L268.76,276.83 L269.14,278.51 L269.52,277.73 L269.90,279.34 L270.28,276.72 L270.66,274.32 L271.04,276.88 L271.42,278.46 L271.80,277.72 L272.18,278.58 L272.56,279.37 L272.94,276.46 L273.32,276.00 L273.70,276.81 L274.08,277.37 L274.46,275.30 L274.84,276.64 L275.22,277.64 L275.60,277.64 L275.98,277.25 L276.36,276.88 L276.74,276.29 L277.12,277.43 L277.50,283.96 L277.88,279.60 L278.26,278.96 L278.64,277.05 L279.02,275.67 L279.40,272.01 L279.78,278.51 L280.16,277.34 L280.54,277.46 L280.92,279.59 L281.30,276.00 L281.68,275.62 L282.06,276.41 L282.44,277.02 L282.82,276.91 L283.20,275.87 L283.58,276.18 L283.96,275.91 L284.34,274.59 L284.72,275.90 L285.10,278.82 L285.48,276.83 L285.86,279.63 L286.24,276.83 L286.62,275.51 L287.00,276.81 L287.38,277.00 L287.76,277.26 L288.14,277.15 L288.52,276.70 L288.90,276.92 L289.28,276.46 L289.66,276.79 L290.04,277.03 L290.42,277.04 L290.80,277.08 L291.18,276.40 L291.56,276.10 L291.94,277.63 L292.32,279.06 L292.70,277.77 L293.08,276.43 L293.46,275.33 L293.84,276.26 L294.22,277.12 L294.60,273.82 L294.98,275.19 L295.36,279.11 L295.74,277.14 L296.12,274.19 L296.50,275.24 L296.88,275.18 L297.26,276.69 L297.64,277.13 L298.02,275.65 L298.40,277.51 L298.78,277.47 L299.16,277.27 L299.54,276.98 L299.92,274.77 L300.30,273.61 L300.68,277.73 L301.06,277.48 L301.44,276.83 L301.82,276.95 L302.20,276.91 L302.58,276.94 L302.96,277.65 L303.34,277.21 L303.72,275.81 L304.10,275.82 L304.48,275.91 L304.86,276.62 L305.24,279.81 L305.62,277.51 L306.00,274.54 L306.38,275.36 L306.76,279.09 L307.14,275.78 L307.52,274.62 L307.90,276.96 L308.28,277.65 L308.66,277.65 L309.04,275.87 L309.42,273.51 L309.80,274.36 L310.18,278.25 L310.56,280.66 L310.94,278.26 L311.32,275.99 L311.70,273.99 L312.08,274.63 L312.46,277.13 L312.84,277.55 L313.22,277.46 L313.60,276.07 L313.98,276.10 L314.36,277.56 L314.74,277.36 L315.12,278.13 L315.50,277.56 L315.88,276.70 L316.26,276.52 L316.64,276.59 L317.02,276.32 L317.40,276.54 L317.78,276.42 L318.16,276.68 L318.54,277.06 L318.92,276.92 L319.30,277.79 L319.68,276.48 L320.06,275.45 L320.44,276.11 L320.82,276.64 L321.20,277.28 L321.58,278.01 L321.96,275.86 L322.34,275.96 L322.72,275.99 L323.10,275.07 L323.48,276.48 L323.86,274.52 L324.24,275.03 L324.62,278.03 L325.00,277.69 L325.38,276.92 L325.76,276.63 L326.14,275.89 L326.52,276.03 L326.90,276.60 L327.28,277.08 L327.66,276.21 L328.04,276.40 L328.42,278.21 L328.80,276.86 L329.18,276.63 L329.56,276.91 L329.94,276.41 L330.32,276.80 L330.70,277.58 L331.08,277.30 L331.46,276.92 L331.84,276.35 L332.22,275.34 L332.60,276.93 L332.98,277.10 L333.36,277.48 L333.74,276.36 L334.12,275.69 L334.50,279.41 L334.88,280.22 L335.26,279.52 L335.64,275.19 L336.02,275.01 L336.40,278.23 L336.78,274.47 L337.16,274.61 L337.54,275.40 L337.92,272.76 L338.30,274.35 L338.68,279.51 L339.06,279.02 L339.44,277.96 L339.82,282.42 L340.20,282.52 L340.58,279.98 L340.96,276.66 L341.34,272.99 L341.72,272.98 L342.10,279.33 L342.48,287.81 L342.86,288.05 L343.24,283.14 L343.62,276.96 L344.00,275.24 L344.38,277.82 L344.76,277.70 L345.14,279.01 L345.52,282.90 L345.90,275.67 L346.28,275.75 L346.66,275.98 L347.04,274.64 L347.42,278.72 L347.80,278.04 L348.18,276.52 L348.56,274.38 L348.94,274.53 L349.32,275.06 L349.70,275.05 L350.08,274.15 L350.46,273.14 L350.84,278.08 L351.22,280.58 L351.60,278.57 L351.98,278.06 L352.36,279.70 L352.74,276.17 L353.12,275.92 L353.50,279.23 L353.88,280.48 L354.26,282.26 L354.64,281.72 L355.02,278.97 L355.40,278.10 L355.78,284.21 L356.16,291.22 L356.54,291.82 L356.92,286.46 L357.30,283.21 L357.68,278.55 L358.06,275.46 L358.44,278.36 L358.82,279.67 L359.20,278.89 L359.58,277.69 L359.96,276.93 L360.34,276.16 L360.72,277.36 L361.10,274.74 L361.48,279.18 L361.86,277.46 L362.24,274.93 L362.62,276.82 L363.00,275.96 L363.38,278.72 L363.76,276.42 L364.14,278.46 L364.52,278.19 L364.90,276.62 L365.28,278.59 L365.66,281.23 L366.04,279.72 L366.42,275.89 L366.80,274.86 L367.18,278.76 L367.56,278.67 L367.94,279.34 L368.32,279.20 L368.70,275.93 L369.08,275.24 L369.46,275.01 L369.84,280.71 L370.22,283.34 L370.60,287.98 L370.98,292.59 L371.36,284.39 L371.74,283.83 L372.12,282.69 L372.50,280.02 L372.88,279.43 L373.26,278.88 L373.64,277.70 L374.02,277.29 L374.40,277.39 L374.78,277.40 L375.16,275.36 L375.54,272.74 L375.92,275.41 L376.30,276.61 L376.68,276.10 L377.06,278.14 L377.44,279.89 L377.82,279.66 L378.20,277.20 L378.58,283.19 L378.96,277.12 L379.34,276.99 L379.72,279.11 L380.10,279.59 L380.48,275.40 L380.86,276.22 L381.24,276.81 L381.62,275.61 L382.00,275.53 L382.38,274.42 L382.76,273.49 L383.14,279.15 L383.52,280.09 L383.90,277.03 L384.28,280.19 L384.66,292.69 L385.04,294.93 L385.42,284.79 L385.80,280.46 L386.18,278.25 L386.56,278.94 L386.94,278.43 L387.32,278.24 L387.70,277.14 L388.08,281.59 L388.46,278.86 L388.84,276.28 L389.22,277.20 L389.60,279.11 L389.98,278.49 L390.36,279.43 L390.74,278.48 L391.12,275.28 L391.50,274.97 L391.88,278.50 L392.26,278.14 L392.64,276.81 L393.02,278.42 L393.40,274.49 L393.78,275.85 L394.16,279.61 L394.54,279.15 L394.92,281.81 L395.30,282.37 L395.68,275.85 L396.06,273.06 L396.44,274.49 L396.82,275.57 L397.20,276.32 L397.58,272.80 L397.96,274.32 L398.34,279.22 L398.72,282.60 L399.10,292.37 L399.48,289.12 L399.86,280.07 L400.24,276.77 L400.62,276.52 L401.00,273.91 L401.38,273.69 L401.76,277.98 L402.14,282.14 L402.52,281.62 L402.90,279.66 L403.28,278.69 L403.66,280.51 L404.04,281.76 L404.42,278.60 L404.80,276.04 L405.18,277.38 L405.56,278.37 L405.94,278.22 L406.32,277.09 L406.70,276.76 L407.08,281.99 L407.46,281.42 L407.84,278.32 L408.22,278.86 L408.60,279.90 L408.98,277.54 L409.36,276.96 L409.74,279.06 L410.12,282.63 L410.50,279.62 L410.88,280.97 L411.26,281.86 L411.64,283.49 L412.02,286.83 L412.40,284.23 L412.78,276.40 L413.16,272.53 L413.54,275.21 L413.92,279.44 L414.30,281.41 L414.68,281.36 L415.06,277.40 L415.44,276.04 L415.82,279.18 L416.20,278.51 L416.58,278.47 L416.96,277.11 L417.34,274.44 L417.72,273.80 L418.10,274.31 L418.48,274.58 L418.86,275.13 L419.24,277.15 L419.62,281.22 L420.00,279.65 L420.38,273.86 L420.76,274.74 L421.14,276.93 L421.52,275.92 L421.90,278.71 L422.28,278.17 L422.66,274.42 L423.04,276.46 L423.42,278.23 L423.80,277.90 L424.18,278.25 L424.56,279.63 L424.94,280.31 L425.32,279.39 L425.70,279.57 L426.08,278.85" fill="none" stroke="#262626" stroke-width="1.1" stroke-linejoin="round" />
<path d="M619.30,91.00 L619.70,170.20 L620.20,286.76 L620.40,292.90" fill="none" stroke="#a8a8a8" stroke-width="1.2" stroke-linejoin="round" />
<path d="M620.40,292.90 L620.75,272.45 L621.20,190.65 L621.70,139.53 L622.20,104.76 L623.10,92.40" fill="none" stroke="#858585" stroke-width="1.25" stroke-linejoin="round" />
<path d="M628.80,91.00 L629.20,167.48 L629.70,280.17 L629.90,286.10" fill="none" stroke="#a8a8a8" stroke-width="1.2" stroke-linejoin="round" />
<path d="M629.90,286.10 L630.25,266.33 L630.70,187.25 L631.20,137.83 L631.70,104.22 L632.60,92.40" fill="none" stroke="#858585" stroke-width="1.25" stroke-linejoin="round" />
<path d="M638.80,91.00 L639.20,165.76 L639.70,276.00 L639.90,281.80" fill="none" stroke="#a8a8a8" stroke-width="1.2" stroke-linejoin="round" />
<path d="M639.90,281.80 L640.25,262.46 L640.70,185.10 L641.20,136.75 L641.70,103.87 L642.60,92.40" fill="none" stroke="#858585" stroke-width="1.25" stroke-linejoin="round" />
<path d="M648.60,91.00 L649.00,161.56 L649.50,265.81 L649.70,271.30" fill="none" stroke="#a8a8a8" stroke-width="1.2" stroke-linejoin="round" />
<path d="M649.70,271.30 L650.05,253.01 L650.50,179.85 L651.00,134.12 L651.50,103.03 L652.40,92.40" fill="none" stroke="#858585" stroke-width="1.25" stroke-linejoin="round" />
<path d="M658.20,91.00 L658.60,156.12 L659.10,252.62 L659.30,257.70" fill="none" stroke="#a8a8a8" stroke-width="1.2" stroke-linejoin="round" />
<path d="M659.30,257.70 L659.65,240.77 L660.10,173.05 L660.60,130.72 L661.10,101.94 L662.00,92.40" fill="none" stroke="#858585" stroke-width="1.25" stroke-linejoin="round" />
<path d="M668.10,91.00 L668.50,150.92 L669.00,240.01 L669.20,244.70" fill="none" stroke="#a8a8a8" stroke-width="1.2" stroke-linejoin="round" />
<path d="M669.20,244.70 L669.55,229.07 L670.00,166.55 L670.50,127.47 L671.00,100.90 L671.90,92.40" fill="none" stroke="#858585" stroke-width="1.25" stroke-linejoin="round" />
<path d="M677.80,91.00 L678.20,147.24 L678.70,231.09 L678.90,235.50" fill="none" stroke="#a8a8a8" stroke-width="1.2" stroke-linejoin="round" />
<path d="M678.90,235.50 L679.25,220.79 L679.70,161.95 L680.20,125.18 L680.70,100.17 L681.60,92.40" fill="none" stroke="#858585" stroke-width="1.25" stroke-linejoin="round" />
<path d="M687.70,91.00 L688.10,143.28 L688.60,221.48 L688.80,225.60" fill="none" stroke="#a8a8a8" stroke-width="1.2" stroke-linejoin="round" />
<path d="M688.80,225.60 L689.15,211.88 L689.60,157.00 L690.10,122.70 L690.60,99.38 L691.50,92.40" fill="none" stroke="#858585" stroke-width="1.25" stroke-linejoin="round" />
<path d="M698.40,91.00 L698.80,139.36 L699.30,211.98 L699.50,215.80" fill="none" stroke="#a8a8a8" stroke-width="1.2" stroke-linejoin="round" />
<path d="M699.50,215.80 L699.85,203.06 L700.30,152.10 L700.80,120.25 L701.30,98.59 L702.20,92.40" fill="none" stroke="#858585" stroke-width="1.25" stroke-linejoin="round" />
<path d="M708.20,91.00 L708.60,133.12 L709.10,196.85 L709.30,200.20" fill="none" stroke="#a8a8a8" stroke-width="1.2" stroke-linejoin="round" />
<path d="M709.30,200.20 L709.65,189.02 L710.10,144.30 L710.60,116.35 L711.10,97.34 L712.00,92.40" fill="none" stroke="#858585" stroke-width="1.25" stroke-linejoin="round" />
<path d="M717.90,91.00 L718.30,130.04 L718.80,189.38 L719.00,192.50" fill="none" stroke="#a8a8a8" stroke-width="1.2" stroke-linejoin="round" />
<path d="M719.00,192.50 L719.35,182.09 L719.80,140.45 L720.30,114.43 L720.80,96.73 L721.70,92.40" fill="none" stroke="#858585" stroke-width="1.25" stroke-linejoin="round" />
<path d="M727.60,91.00 L728.00,126.16 L728.50,179.97 L728.70,182.80" fill="none" stroke="#a8a8a8" stroke-width="1.2" stroke-linejoin="round" />
<path d="M728.70,182.80 L729.05,173.36 L729.50,135.60 L730.00,112.00 L730.50,95.95 L731.40,92.40" fill="none" stroke="#858585" stroke-width="1.25" stroke-linejoin="round" />
<path d="M737.70,91.00 L738.10,123.36 L738.60,173.18 L738.80,175.80" fill="none" stroke="#a8a8a8" stroke-width="1.2" stroke-linejoin="round" />
<path d="M738.80,175.80 L739.15,167.06 L739.60,132.10 L740.10,110.25 L740.60,95.39 L741.50,92.40" fill="none" stroke="#858585" stroke-width="1.25" stroke-linejoin="round" />
<path d="M746.20,91.00 L746.60,120.76 L747.10,166.87 L747.30,169.30" fill="none" stroke="#a8a8a8" stroke-width="1.2" stroke-linejoin="round" />
<path d="M747.30,169.30 L747.65,161.21 L748.10,128.85 L748.60,108.62 L749.10,94.87 L750.00,92.40" fill="none" stroke="#858585" stroke-width="1.25" stroke-linejoin="round" />
<path d="M756.30,91.00 L756.70,117.96 L757.20,160.08 L757.40,162.30" fill="none" stroke="#a8a8a8" stroke-width="1.2" stroke-linejoin="round" />
<path d="M757.40,162.30 L757.75,154.91 L758.20,125.35 L758.70,106.88 L759.20,94.31 L760.10,92.40" fill="none" stroke="#858585" stroke-width="1.25" stroke-linejoin="round" />
<path d="M765.90,91.00 L766.30,114.56 L766.80,151.84 L767.00,153.80" fill="none" stroke="#a8a8a8" stroke-width="1.2" stroke-linejoin="round" />
<path d="M767.00,153.80 L767.35,147.26 L767.80,121.10 L768.30,104.75 L768.80,93.63 L769.70,92.40" fill="none" stroke="#858585" stroke-width="1.25" stroke-linejoin="round" />
<path d="M775.60,91.00 L776.00,113.80 L776.50,150.00 L776.70,151.90" fill="none" stroke="#a8a8a8" stroke-width="1.2" stroke-linejoin="round" />
<path d="M776.70,151.90 L777.05,145.55 L777.50,120.15 L778.00,104.28 L778.50,93.48 L779.40,92.40" fill="none" stroke="#858585" stroke-width="1.25" stroke-linejoin="round" />
<path d="M785.30,91.00 L785.70,110.24 L786.20,141.36 L786.40,143.00" fill="none" stroke="#a8a8a8" stroke-width="1.2" stroke-linejoin="round" />
<path d="M786.40,143.00 L786.75,137.54 L787.20,115.70 L787.70,102.05 L788.20,92.77 L789.10,92.40" fill="none" stroke="#858585" stroke-width="1.25" stroke-linejoin="round" />
<path d="M794.90,91.00 L795.30,110.48 L795.80,141.94 L796.00,143.60" fill="none" stroke="#a8a8a8" stroke-width="1.2" stroke-linejoin="round" />
<path d="M796.00,143.60 L796.35,138.08 L796.80,116.00 L797.30,102.20 L797.80,92.82 L798.70,92.40" fill="none" stroke="#858585" stroke-width="1.25" stroke-linejoin="round" />
<path d="M805.00,91.00 L805.40,109.16 L805.90,138.74 L806.10,140.30" fill="none" stroke="#a8a8a8" stroke-width="1.2" stroke-linejoin="round" />
<path d="M806.10,140.30 L806.45,135.11 L806.90,114.35 L807.40,101.38 L807.90,92.55 L808.80,92.40" fill="none" stroke="#858585" stroke-width="1.25" stroke-linejoin="round" />
<path d="M814.80,91.00 L815.20,107.00 L815.70,133.50 L815.90,134.90" fill="none" stroke="#a8a8a8" stroke-width="1.2" stroke-linejoin="round" />
<path d="M815.90,134.90 L816.25,130.25 L816.70,111.65 L817.20,100.03 L817.70,92.12 L818.60,92.40" fill="none" stroke="#858585" stroke-width="1.25" stroke-linejoin="round" />
<path d="M824.50,91.00 L824.90,107.60 L825.40,134.96 L825.60,136.40" fill="none" stroke="#a8a8a8" stroke-width="1.2" stroke-linejoin="round" />
<path d="M825.60,136.40 L825.95,131.60 L826.40,112.40 L826.90,100.40 L827.40,92.24 L828.30,92.40" fill="none" stroke="#858585" stroke-width="1.25" stroke-linejoin="round" />
<path d="M834.30,91.00 L834.70,106.08 L835.20,131.27 L835.40,132.60" fill="none" stroke="#a8a8a8" stroke-width="1.2" stroke-linejoin="round" />
<path d="M835.40,132.60 L835.75,128.18 L836.20,110.50 L836.70,99.45 L837.20,91.94 L838.10,92.40" fill="none" stroke="#858585" stroke-width="1.25" stroke-linejoin="round" />
<path d="M844.20,91.00 L844.60,105.84 L845.10,130.69 L845.30,132.00" fill="none" stroke="#a8a8a8" stroke-width="1.2" stroke-linejoin="round" />
<path d="M845.30,132.00 L845.65,127.64 L846.10,110.20 L846.60,99.30 L847.10,91.89 L848.00,92.40" fill="none" stroke="#858585" stroke-width="1.25" stroke-linejoin="round" />
<path d="M854.00,91.00 L854.40,104.84 L854.90,128.27 L855.10,129.50" fill="none" stroke="#a8a8a8" stroke-width="1.2" stroke-linejoin="round" />
<path d="M855.10,129.50 L855.45,125.39 L855.90,108.95 L856.40,98.68 L856.90,91.69 L857.80,92.40" fill="none" stroke="#858585" stroke-width="1.25" stroke-linejoin="round" />
<path d="M863.90,91.00 L864.30,104.04 L864.80,126.33 L865.00,127.50" fill="none" stroke="#a8a8a8" stroke-width="1.2" stroke-linejoin="round" />
<path d="M865.00,127.50 L865.35,123.59 L865.80,107.95 L866.30,98.18 L866.80,91.53 L867.70,92.40" fill="none" stroke="#858585" stroke-width="1.25" stroke-linejoin="round" />
<path d="M873.40,91.00 L873.80,103.28 L874.30,124.48 L874.50,125.60" fill="none" stroke="#a8a8a8" stroke-width="1.2" stroke-linejoin="round" />
<path d="M874.50,125.60 L874.85,121.88 L875.30,107.00 L875.80,97.70 L876.30,91.38 L877.20,92.40" fill="none" stroke="#858585" stroke-width="1.25" stroke-linejoin="round" />
<path d="M883.00,91.00 L883.40,105.84 L883.90,130.69 L884.10,132.00" fill="none" stroke="#a8a8a8" stroke-width="1.2" stroke-linejoin="round" />
<path d="M884.10,132.00 L884.45,127.64 L884.90,110.20 L885.40,99.30 L885.90,91.89 L886.80,92.40" fill="none" stroke="#858585" stroke-width="1.25" stroke-linejoin="round" />
<path d="M892.90,91.00 L893.30,103.52 L893.80,125.07 L894.00,126.20" fill="none" stroke="#a8a8a8" stroke-width="1.2" stroke-linejoin="round" />
<path d="M894.00,126.20 L894.35,122.42 L894.80,107.30 L895.30,97.85 L895.80,91.42 L896.70,92.40" fill="none" stroke="#858585" stroke-width="1.25" stroke-linejoin="round" />
<path d="M600.40,88.43 L600.90,87.19 L601.40,87.65 L601.90,88.57 L602.40,89.25 L602.90,88.64 L603.40,89.37 L603.90,90.73 L604.40,89.42 L604.90,86.24 L605.40,88.24 L605.90,85.81 L606.40,88.10 L606.90,88.98 L607.40,87.65 L607.90,88.16 L608.40,88.09 L608.90,88.50 L609.40,91.23 L609.90,90.97 L610.40,91.34 L610.90,89.64 L611.40,87.89 L611.90,87.04 L612.40,90.99 L612.90,88.65 L613.40,89.37 L613.90,88.85 L614.40,88.96 L614.90,89.65 L615.40,89.13 L615.90,89.96 L616.40,88.60 L616.90,88.51 L617.40,88.60 L617.90,89.28 L618.40,89.85 L618.90,87.44 L619.30,91.00" fill="none" stroke="#1c1c1c" stroke-width="2.1" stroke-linejoin="round" />
<path d="M623.10,92.40 L623.67,92.31 L624.24,90.90 L624.81,90.62 L625.38,90.71 L625.95,89.31 L626.52,89.05 L627.09,89.70 L627.66,88.93 L628.23,89.97 L628.80,91.00" fill="none" stroke="#1c1c1c" stroke-width="2.3" stroke-linejoin="round" />
<path d="M632.60,92.40 L633.16,91.54 L633.73,91.08 L634.29,90.55 L634.85,91.00 L635.42,88.62 L635.98,88.92 L636.55,88.48 L637.11,88.61 L637.67,89.99 L638.24,91.36 L638.80,91.00" fill="none" stroke="#1c1c1c" stroke-width="2.3" stroke-linejoin="round" />
<path d="M642.60,92.40 L643.15,91.10 L643.69,89.75 L644.24,90.04 L644.78,89.07 L645.33,86.39 L645.87,86.68 L646.42,86.62 L646.96,90.89 L647.51,90.65 L648.05,91.37 L648.60,91.00" fill="none" stroke="#1c1c1c" stroke-width="2.3" stroke-linejoin="round" />
<path d="M652.40,92.40 L652.98,92.99 L653.56,91.48 L654.14,89.82 L654.72,90.49 L655.30,90.74 L655.88,89.56 L656.46,89.42 L657.04,88.65 L657.62,88.64 L658.20,91.00" fill="none" stroke="#1c1c1c" stroke-width="2.3" stroke-linejoin="round" />
<path d="M662.00,92.40 L662.55,91.96 L663.11,91.60 L663.66,90.67 L664.22,89.47 L664.77,89.63 L665.33,90.29 L665.88,89.26 L666.44,88.32 L666.99,89.07 L667.55,90.62 L668.10,91.00" fill="none" stroke="#1c1c1c" stroke-width="2.3" stroke-linejoin="round" />
<path d="M671.90,92.40 L672.49,91.27 L673.08,90.20 L673.67,90.43 L674.26,88.46 L674.85,87.33 L675.44,88.04 L676.03,88.34 L676.62,88.38 L677.21,90.11 L677.80,91.00" fill="none" stroke="#1c1c1c" stroke-width="2.3" stroke-linejoin="round" />
<path d="M681.60,92.40 L682.15,93.39 L682.71,91.98 L683.26,89.93 L683.82,89.85 L684.37,87.68 L684.93,87.39 L685.48,88.65 L686.04,89.72 L686.59,90.49 L687.15,89.82 L687.70,91.00" fill="none" stroke="#1c1c1c" stroke-width="2.3" stroke-linejoin="round" />
<path d="M691.50,92.40 L692.08,91.86 L692.65,90.36 L693.23,88.22 L693.80,87.78 L694.38,87.47 L694.95,87.74 L695.52,89.00 L696.10,88.02 L696.67,88.76 L697.25,90.86 L697.82,91.15 L698.40,91.00" fill="none" stroke="#1c1c1c" stroke-width="2.3" stroke-linejoin="round" />
<path d="M702.20,92.40 L702.80,90.41 L703.40,85.74 L704.00,88.88 L704.60,88.91 L705.20,88.64 L705.80,91.33 L706.40,89.74 L707.00,89.63 L707.60,90.41 L708.20,91.00" fill="none" stroke="#1c1c1c" stroke-width="2.3" stroke-linejoin="round" />
<path d="M712.00,92.40 L712.59,90.68 L713.18,91.22 L713.77,91.39 L714.36,88.57 L714.95,88.34 L715.54,89.06 L716.13,90.15 L716.72,90.21 L717.31,88.29 L717.90,91.00" fill="none" stroke="#1c1c1c" stroke-width="2.3" stroke-linejoin="round" />
<path d="M721.70,92.40 L722.29,91.03 L722.88,90.41 L723.47,90.80 L724.06,88.64 L724.65,88.82 L725.24,88.19 L725.83,87.33 L726.42,88.48 L727.01,89.74 L727.60,91.00" fill="none" stroke="#1c1c1c" stroke-width="2.3" stroke-linejoin="round" />
<path d="M731.40,92.40 L731.97,93.11 L732.55,90.96 L733.12,90.46 L733.69,89.01 L734.26,88.96 L734.84,88.55 L735.41,88.26 L735.98,91.61 L736.55,90.64 L737.13,92.40 L737.70,91.00" fill="none" stroke="#1c1c1c" stroke-width="2.3" stroke-linejoin="round" />
<path d="M741.50,92.40 L742.09,90.42 L742.67,90.51 L743.26,90.27 L743.85,88.39 L744.44,88.38 L745.02,90.78 L745.61,88.51 L746.20,91.00" fill="none" stroke="#1c1c1c" stroke-width="2.3" stroke-linejoin="round" />
<path d="M750.00,92.40 L750.57,92.40 L751.15,90.44 L751.72,89.78 L752.29,89.73 L752.86,89.68 L753.44,89.98 L754.01,88.30 L754.58,87.91 L755.15,86.59 L755.73,93.10 L756.30,91.00" fill="none" stroke="#1c1c1c" stroke-width="2.3" stroke-linejoin="round" />
<path d="M760.10,92.40 L760.68,92.88 L761.26,91.78 L761.84,90.69 L762.42,89.37 L763.00,87.45 L763.58,88.99 L764.16,91.03 L764.74,90.92 L765.32,90.86 L765.90,91.00" fill="none" stroke="#1c1c1c" stroke-width="2.3" stroke-linejoin="round" />
<path d="M769.70,92.40 L770.29,90.73 L770.88,89.73 L771.47,89.30 L772.06,87.97 L772.65,88.81 L773.24,89.12 L773.83,91.18 L774.42,91.63 L775.01,93.96 L775.60,91.00" fill="none" stroke="#1c1c1c" stroke-width="2.3" stroke-linejoin="round" />
<path d="M779.40,92.40 L779.99,91.99 L780.58,89.57 L781.17,89.24 L781.76,88.30 L782.35,87.30 L782.94,88.94 L783.53,89.71 L784.12,89.39 L784.71,90.69 L785.30,91.00" fill="none" stroke="#1c1c1c" stroke-width="2.3" stroke-linejoin="round" />
<path d="M789.10,92.40 L789.68,91.61 L790.26,90.02 L790.84,90.06 L791.42,89.87 L792.00,88.22 L792.58,88.85 L793.16,90.57 L793.74,88.98 L794.32,89.47 L794.90,91.00" fill="none" stroke="#1c1c1c" stroke-width="2.3" stroke-linejoin="round" />
<path d="M798.70,92.40 L799.27,91.95 L799.85,90.88 L800.42,89.41 L800.99,86.98 L801.56,87.37 L802.14,87.64 L802.71,87.99 L803.28,88.70 L803.85,88.81 L804.43,88.97 L805.00,91.00" fill="none" stroke="#1c1c1c" stroke-width="2.3" stroke-linejoin="round" />
<path d="M808.80,92.40 L809.40,92.07 L810.00,92.45 L810.60,88.61 L811.20,89.09 L811.80,88.89 L812.40,90.11 L813.00,89.20 L813.60,89.66 L814.20,91.39 L814.80,91.00" fill="none" stroke="#1c1c1c" stroke-width="2.3" stroke-linejoin="round" />
<path d="M818.60,92.40 L819.19,91.63 L819.78,88.06 L820.37,87.16 L820.96,85.53 L821.55,88.26 L822.14,89.27 L822.73,89.48 L823.32,89.12 L823.91,90.04 L824.50,91.00" fill="none" stroke="#1c1c1c" stroke-width="2.3" stroke-linejoin="round" />
<path d="M828.30,92.40 L828.90,91.95 L829.50,90.76 L830.10,90.01 L830.70,90.10 L831.30,89.15 L831.90,90.05 L832.50,88.72 L833.10,89.31 L833.70,91.75 L834.30,91.00" fill="none" stroke="#1c1c1c" stroke-width="2.3" stroke-linejoin="round" />
<path d="M838.10,92.40 L838.65,90.37 L839.21,88.75 L839.76,89.24 L840.32,87.98 L840.87,90.79 L841.43,88.85 L841.98,87.86 L842.54,88.54 L843.09,89.82 L843.65,87.83 L844.20,91.00" fill="none" stroke="#1c1c1c" stroke-width="2.3" stroke-linejoin="round" />
<path d="M848.00,92.40 L848.55,90.94 L849.09,90.60 L849.64,90.74 L850.18,91.30 L850.73,90.58 L851.27,89.39 L851.82,89.10 L852.36,88.95 L852.91,89.72 L853.45,90.28 L854.00,91.00" fill="none" stroke="#1c1c1c" stroke-width="2.3" stroke-linejoin="round" />
<path d="M857.80,92.40 L858.35,90.41 L858.91,90.23 L859.46,90.87 L860.02,91.34 L860.57,91.25 L861.13,89.93 L861.68,89.04 L862.24,89.40 L862.79,90.00 L863.35,92.55 L863.90,91.00" fill="none" stroke="#1c1c1c" stroke-width="2.3" stroke-linejoin="round" />
<path d="M867.70,92.40 L868.27,90.24 L868.84,89.45 L869.41,88.99 L869.98,89.68 L870.55,88.63 L871.12,90.25 L871.69,90.82 L872.26,90.37 L872.83,87.91 L873.40,91.00" fill="none" stroke="#1c1c1c" stroke-width="2.3" stroke-linejoin="round" />
<path d="M877.20,92.40 L877.78,91.51 L878.36,90.25 L878.94,89.76 L879.52,89.81 L880.10,88.03 L880.68,87.43 L881.26,88.47 L881.84,87.37 L882.42,89.26 L883.00,91.00" fill="none" stroke="#1c1c1c" stroke-width="2.3" stroke-linejoin="round" />
<path d="M886.80,92.40 L887.35,91.84 L887.91,91.17 L888.46,90.55 L889.02,90.02 L889.57,88.75 L890.13,87.05 L890.68,88.51 L891.24,88.90 L891.79,88.70 L892.35,90.22 L892.90,91.00" fill="none" stroke="#1c1c1c" stroke-width="2.3" stroke-linejoin="round" />
<path d="M896.70,92.40 L897.27,89.73 L897.85,89.14 L898.42,89.06 L898.99,88.00 L899.56,88.95 L900.14,90.31 L900.71,87.64 L901.28,88.42 L901.85,88.82 L902.43,88.45 L903.00,88.91" fill="none" stroke="#1c1c1c" stroke-width="2.3" stroke-linejoin="round" />
<line x1="600.40" y1="88.40" x2="903.00" y2="88.40" stroke="#777" stroke-width="0.8" />
<path d="M123.40,353.24 L124.82,353.57 L126.24,353.90 L127.67,354.25 L129.09,354.60 L130.51,354.97 L131.93,355.35 L133.35,355.73 L134.78,356.13 L136.20,356.55 L137.62,356.97 L139.04,357.41 L140.47,357.86 L141.89,358.32 L143.31,358.80 L144.73,359.30 L146.15,359.81 L147.58,360.34 L149.00,360.88 L150.42,361.44 L151.84,362.02 L153.26,362.62 L154.69,363.23 L156.11,363.87 L157.53,364.53 L158.95,365.20 L160.37,365.90 L161.80,366.63 L163.22,367.37 L164.64,368.14 L166.06,368.94 L167.49,369.76 L168.91,370.61 L170.33,371.48 L171.75,372.38 L173.17,373.31 L174.60,374.27 L176.02,375.27 L177.44,376.29 L178.86,377.34 L180.28,378.43 L181.71,379.55 L183.13,380.71 L184.55,381.90 L185.97,383.12 L187.39,384.38 L188.82,385.68 L190.24,387.01 L191.66,388.38 L193.08,389.79 L194.51,391.24 L195.93,392.73 L197.35,394.25 L198.77,395.81 L200.19,397.41 L201.62,399.04 L203.04,400.72 L204.46,402.43 L205.88,404.17 L207.30,405.95 L208.73,407.76 L210.15,409.61 L211.57,411.48 L212.99,413.38 L214.42,415.32 L215.84,417.27 L217.26,419.25 L218.68,421.26 L220.10,423.28 L221.53,425.31 L222.95,427.37 L224.37,429.43 L225.79,431.50 L227.21,433.58 L228.64,435.66 L230.06,437.74 L231.48,439.82 L232.90,441.90 L234.32,443.96 L235.75,446.02 L237.17,448.06 L238.59,450.09 L240.01,452.10 L241.44,454.09 L242.86,456.05 L244.28,457.99 L245.70,459.91 L247.12,461.79 L248.55,463.65 L249.97,465.47 L251.39,467.26 L252.81,469.02 L254.23,470.74 L255.66,472.42 L257.08,474.07 L258.50,475.68 L259.92,477.26 L261.34,478.79 L262.77,480.29 L264.19,481.75 L265.61,483.17 L267.03,484.56 L268.46,485.91 L269.88,487.22 L271.30,488.49 L272.72,489.73 L274.14,490.93 L275.57,492.10 L276.99,493.23 L278.41,494.33 L279.83,495.39 L281.25,496.43 L282.68,497.43 L284.10,498.40 L285.52,499.34 L286.94,500.25 L288.36,501.14 L289.79,501.99 L291.21,502.82 L292.63,503.63 L294.05,504.41 L295.48,505.16 L296.90,505.89 L298.32,506.60 L299.74,507.28 L301.16,507.95 L302.59,508.59 L304.01,509.21 L305.43,509.82 L306.85,510.40 L308.27,510.97 L309.70,511.52 L311.12,512.05 L312.54,512.57 L313.96,513.07 L315.38,513.55 L316.81,514.02 L318.23,514.48 L319.65,514.92 L321.07,515.35 L322.50,515.77 L323.92,516.17 L325.34,516.56 L326.76,516.94 L328.18,517.31 L329.61,517.67 L331.03,518.02 L332.45,518.36 L333.87,518.69 L335.29,519.00 L336.72,519.31 L338.14,519.62 L339.56,519.91 L340.98,520.19 L342.41,520.47 L343.83,520.74 L345.25,521.00 L346.67,521.26 L348.09,521.50 L349.52,521.75 L350.94,521.98 L352.36,522.21 L353.78,522.43 L355.20,522.65 L356.63,522.86 L358.05,523.07 L359.47,523.27 L360.89,523.46 L362.31,523.65 L363.74,523.84 L365.16,524.02 L366.58,524.19 L368.00,524.37 L369.43,524.53 L370.85,524.70 L372.27,524.86 L373.69,525.01 L375.11,525.17 L376.54,525.31 L377.96,525.46 L379.38,525.60 L380.80,525.74 L382.22,525.87 L383.65,526.01 L385.07,526.13 L386.49,526.26 L387.91,526.38 L389.33,526.50 L390.76,526.62 L392.18,526.74 L393.60,526.85 L395.02,526.96 L396.45,527.07 L397.87,527.17 L399.29,527.27 L400.71,527.37 L402.13,527.47 L403.56,527.57 L404.98,527.66 L406.40,527.76" fill="none" stroke="#858585" stroke-width="1.2" stroke-linejoin="round" />
<path d="M600.40,565.67 L601.85,565.05 L603.29,564.42 L604.74,563.77 L606.18,563.10 L607.63,562.41 L609.07,561.70 L610.52,560.97 L611.96,560.22 L613.41,559.45 L614.85,558.65 L616.30,557.83 L617.74,556.99 L619.19,556.12 L620.63,555.23 L622.08,554.31 L623.52,553.37 L624.97,552.39 L626.41,551.39 L627.86,550.36 L629.30,549.30 L630.75,548.21 L632.19,547.09 L633.64,545.94 L635.09,544.75 L636.53,543.53 L637.98,542.28 L639.42,540.99 L640.87,539.66 L642.31,538.30 L643.76,536.91 L645.20,535.47 L646.65,534.00 L648.09,532.48 L649.54,530.93 L650.98,529.34 L652.43,527.71 L653.87,526.04 L655.32,524.33 L656.76,522.58 L658.21,520.79 L659.65,518.96 L661.10,517.09 L662.54,515.18 L663.99,513.23 L665.44,511.25 L666.88,509.22 L668.33,507.16 L669.77,505.06 L671.22,502.93 L672.66,500.76 L674.11,498.56 L675.55,496.33 L677.00,494.07 L678.44,491.79 L679.89,489.48 L681.33,487.14 L682.78,484.78 L684.22,482.41 L685.67,480.02 L687.11,477.61 L688.56,475.19 L690.00,472.76 L691.45,470.33 L692.89,467.89 L694.34,465.45 L695.78,463.01 L697.23,460.58 L698.68,458.15 L700.12,455.73 L701.57,453.33 L703.01,450.94 L704.46,448.56 L705.90,446.21 L707.35,443.87 L708.79,441.57 L710.24,439.28 L711.68,437.02 L713.13,434.80 L714.57,432.60 L716.02,430.44 L717.46,428.31 L718.91,426.21 L720.35,424.15 L721.80,422.13 L723.24,420.15 L724.69,418.20 L726.13,416.30 L727.58,414.43 L729.03,412.61 L730.47,410.82 L731.92,409.07 L733.36,407.37 L734.81,405.70 L736.25,404.07 L737.70,402.49 L739.14,400.94 L740.59,399.43 L742.03,397.96 L743.48,396.53 L744.92,395.13 L746.37,393.78 L747.81,392.46 L749.26,391.17 L750.70,389.92 L752.15,388.70 L753.59,387.52 L755.04,386.37 L756.48,385.25 L757.93,384.16 L759.37,383.11 L760.82,382.08 L762.27,381.08 L763.71,380.11 L765.16,379.17 L766.60,378.25 L768.05,377.36 L769.49,376.50 L770.94,375.66 L772.38,374.84 L773.83,374.05 L775.27,373.28 L776.72,372.53 L778.16,371.80 L779.61,371.09 L781.05,370.40 L782.50,369.74 L783.94,369.09 L785.39,368.46 L786.83,367.84 L788.28,367.24 L789.72,366.66 L791.17,366.10 L792.62,365.55 L794.06,365.02 L795.51,364.50 L796.95,363.99 L798.40,363.50 L799.84,363.02 L801.29,362.56 L802.73,362.10 L804.18,361.66 L805.62,361.23 L807.07,360.82 L808.51,360.41 L809.96,360.01 L811.40,359.63 L812.85,359.25 L814.29,358.88 L815.74,358.53 L817.18,358.18 L818.63,357.84 L820.07,357.51 L821.52,357.18 L822.96,356.87 L824.41,356.56 L825.86,356.26 L827.30,355.97 L828.75,355.69 L830.19,355.41 L831.64,355.14 L833.08,354.87 L834.53,354.61 L835.97,354.36 L837.42,354.11 L838.86,353.87 L840.31,353.64 L841.75,353.41 L843.20,353.18 L844.64,352.97 L846.09,352.75 L847.53,352.54 L848.98,352.34 L850.42,352.14 L851.87,351.94 L853.31,351.75 L854.76,351.56 L856.21,351.38 L857.65,351.20 L859.10,351.02 L860.54,350.85 L861.99,350.68 L863.43,350.52 L864.88,350.36 L866.32,350.20 L867.77,350.05 L869.21,349.90 L870.66,349.75 L872.10,349.60 L873.55,349.46 L874.99,349.32 L876.44,349.19 L877.88,349.05 L879.33,348.92 L880.77,348.79 L882.22,348.67 L883.66,348.55 L885.11,348.42 L886.55,348.31 L888.00,348.19" fill="none" stroke="#858585" stroke-width="1.2" stroke-linejoin="round" />
<rect x="132.80" y="354.10" width="7.8" height="7.8" fill="#1e1e1e"/>
<rect x="146.30" y="354.10" width="7.8" height="7.8" fill="#1e1e1e"/>
<rect x="160.40" y="355.10" width="7.8" height="7.8" fill="#1e1e1e"/>
<rect x="174.00" y="370.90" width="7.8" height="7.8" fill="#1e1e1e"/>
<rect x="187.90" y="394.00" width="7.8" height="7.8" fill="#1e1e1e"/>
<rect x="216.40" y="426.00" width="7.8" height="7.8" fill="#1e1e1e"/>
<rect x="230.60" y="438.40" width="7.8" height="7.8" fill="#1e1e1e"/>
<rect x="245.20" y="452.30" width="7.8" height="7.8" fill="#1e1e1e"/>
<rect x="260.10" y="478.70" width="7.8" height="7.8" fill="#1e1e1e"/>
<rect x="274.30" y="488.30" width="7.8" height="7.8" fill="#1e1e1e"/>
<rect x="290.10" y="499.50" width="7.8" height="7.8" fill="#1e1e1e"/>
<rect x="305.40" y="507.30" width="7.8" height="7.8" fill="#1e1e1e"/>
<rect x="320.40" y="511.00" width="7.8" height="7.8" fill="#1e1e1e"/>
<rect x="335.70" y="523.70" width="7.8" height="7.8" fill="#1e1e1e"/>
<rect x="351.00" y="526.00" width="7.8" height="7.8" fill="#1e1e1e"/>
<rect x="366.60" y="526.80" width="7.8" height="7.8" fill="#1e1e1e"/>
<rect x="382.70" y="530.70" width="7.8" height="7.8" fill="#1e1e1e"/>
<rect x="398.80" y="528.80" width="7.8" height="7.8" fill="#1e1e1e"/>
<rect x="605.20" y="549.50" width="7.8" height="7.8" fill="#1e1e1e"/>
<rect x="614.30" y="556.40" width="7.8" height="7.8" fill="#1e1e1e"/>
<rect x="623.50" y="553.90" width="7.8" height="7.8" fill="#1e1e1e"/>
<rect x="632.90" y="547.70" width="7.8" height="7.8" fill="#1e1e1e"/>
<rect x="642.00" y="531.00" width="7.8" height="7.8" fill="#1e1e1e"/>
<rect x="651.40" y="510.90" width="7.8" height="7.8" fill="#1e1e1e"/>
<rect x="660.80" y="504.10" width="7.8" height="7.8" fill="#1e1e1e"/>
<rect x="670.20" y="504.30" width="7.8" height="7.8" fill="#1e1e1e"/>
<rect x="679.40" y="488.00" width="7.8" height="7.8" fill="#1e1e1e"/>
<rect x="689.60" y="454.80" width="7.8" height="7.8" fill="#1e1e1e"/>
<rect x="699.10" y="440.70" width="7.8" height="7.8" fill="#1e1e1e"/>
<rect x="708.70" y="430.40" width="7.8" height="7.8" fill="#1e1e1e"/>
<rect x="718.30" y="426.90" width="7.8" height="7.8" fill="#1e1e1e"/>
<rect x="728.50" y="406.30" width="7.8" height="7.8" fill="#1e1e1e"/>
<rect x="738.40" y="401.60" width="7.8" height="7.8" fill="#1e1e1e"/>
<rect x="748.30" y="385.50" width="7.8" height="7.8" fill="#1e1e1e"/>
<rect x="758.40" y="377.50" width="7.8" height="7.8" fill="#1e1e1e"/>
<rect x="768.30" y="362.80" width="7.8" height="7.8" fill="#1e1e1e"/>
<rect x="778.30" y="379.80" width="7.8" height="7.8" fill="#1e1e1e"/>
<rect x="788.70" y="359.50" width="7.8" height="7.8" fill="#1e1e1e"/>
<rect x="798.90" y="352.80" width="7.8" height="7.8" fill="#1e1e1e"/>
<rect x="809.60" y="352.60" width="7.8" height="7.8" fill="#1e1e1e"/>
<rect x="819.70" y="356.20" width="7.8" height="7.8" fill="#1e1e1e"/>
<rect x="830.30" y="351.30" width="7.8" height="7.8" fill="#1e1e1e"/>
<rect x="840.80" y="345.10" width="7.8" height="7.8" fill="#1e1e1e"/>
<rect x="851.40" y="351.90" width="7.8" height="7.8" fill="#1e1e1e"/>
<rect x="862.10" y="342.70" width="7.8" height="7.8" fill="#1e1e1e"/>
<rect x="872.90" y="346.90" width="7.8" height="7.8" fill="#1e1e1e"/>
<g fill="#111" font-family='"Liberation Sans", sans-serif'>
<text transform="translate(12.60,20.70) scale(0.92,1)" font-size="29.8" text-anchor="start" font-weight="bold" stroke="#161616" stroke-width="0.45">a</text>
<text transform="translate(491.20,20.70) scale(0.95,1)" font-size="29.8" text-anchor="start" font-weight="bold" stroke="#161616" stroke-width="0.45">b</text>
<text x="212.7" y="19.7" font-size="21" textLength="90" lengthAdjust="spacingAndGlyphs">Time (min)</text>
<text x="708.4" y="19.7" font-size="21" textLength="91" lengthAdjust="spacingAndGlyphs">Time (min)</text>
<text x="226.6" y="642.3" font-size="20.5" textLength="91" lengthAdjust="spacingAndGlyphs">Molar ratio</text>
<text x="715.5" y="642.3" font-size="20.5" textLength="90" lengthAdjust="spacingAndGlyphs">Molar ratio</text>
<text transform="translate(119.00,52.00) scale(1.06,1)" font-size="18" text-anchor="middle" font-weight="normal" >0</text>
<text transform="translate(173.00,52.00) scale(1.06,1)" font-size="18" text-anchor="middle" font-weight="normal" >20</text>
<text transform="translate(228.00,52.00) scale(1.06,1)" font-size="18" text-anchor="middle" font-weight="normal" >40</text>
<text transform="translate(283.00,52.00) scale(1.06,1)" font-size="18" text-anchor="middle" font-weight="normal" >60</text>
<text transform="translate(337.80,52.00) scale(1.06,1)" font-size="18" text-anchor="middle" font-weight="normal" >80</text>
<text transform="translate(391.80,52.00) scale(1.06,1)" font-size="18" text-anchor="middle" font-weight="normal" >100</text>
<text transform="translate(446.80,52.00) scale(1.06,1)" font-size="18" text-anchor="middle" font-weight="normal" >120</text>
<text transform="translate(599.00,52.00) scale(1.06,1)" font-size="18" text-anchor="middle" font-weight="normal" >0</text>
<text transform="translate(637.80,52.00) scale(1.06,1)" font-size="18" text-anchor="middle" font-weight="normal" >20</text>
<text transform="translate(677.00,52.00) scale(1.06,1)" font-size="18" text-anchor="middle" font-weight="normal" >40</text>
<text transform="translate(715.80,52.00) scale(1.06,1)" font-size="18" text-anchor="middle" font-weight="normal" >60</text>
<text transform="translate(755.00,52.00) scale(1.06,1)" font-size="18" text-anchor="middle" font-weight="normal" >80</text>
<text transform="translate(796.10,52.00) scale(1.06,1)" font-size="18" text-anchor="middle" font-weight="normal" >100</text>
<text transform="translate(833.00,52.00) scale(1.06,1)" font-size="18" text-anchor="middle" font-weight="normal" >120</text>
<text transform="translate(871.10,52.00) scale(1.06,1)" font-size="18" text-anchor="middle" font-weight="normal" >140</text>
<text transform="translate(909.90,52.00) scale(1.06,1)" font-size="18" text-anchor="middle" font-weight="normal" >160</text>
<text transform="translate(79.50,94.00) scale(1.06,1)" font-size="18" text-anchor="end" font-weight="normal" >0.20</text>
<text transform="translate(79.50,141.55) scale(1.06,1)" font-size="18" text-anchor="end" font-weight="normal" >0.15</text>
<text transform="translate(79.50,189.10) scale(1.06,1)" font-size="18" text-anchor="end" font-weight="normal" >0.10</text>
<text transform="translate(79.50,236.65) scale(1.06,1)" font-size="18" text-anchor="end" font-weight="normal" >0.05</text>
<text transform="translate(79.50,284.20) scale(1.06,1)" font-size="18" text-anchor="end" font-weight="normal" >0.00</text>
<text transform="translate(79.50,324.45) scale(1.06,1)" font-size="18" text-anchor="end" font-weight="normal" >−0.05</text>
<text transform="translate(79.50,342.50) scale(1.06,1)" font-size="18" text-anchor="end" font-weight="normal" >4</text>
<text transform="translate(79.50,440.50) scale(1.06,1)" font-size="18" text-anchor="end" font-weight="normal" >2</text>
<text transform="translate(79.50,538.50) scale(1.06,1)" font-size="18" text-anchor="end" font-weight="normal" >0</text>
<text transform="translate(121.90,616.00) scale(1.06,1)" font-size="18" text-anchor="middle" font-weight="normal" >0.0</text>
<text transform="translate(181.40,616.00) scale(1.06,1)" font-size="18" text-anchor="middle" font-weight="normal" >0.5</text>
<text transform="translate(241.80,616.00) scale(1.06,1)" font-size="18" text-anchor="middle" font-weight="normal" >1.0</text>
<text transform="translate(301.70,616.00) scale(1.06,1)" font-size="18" text-anchor="middle" font-weight="normal" >1.5</text>
<text transform="translate(361.60,616.00) scale(1.06,1)" font-size="18" text-anchor="middle" font-weight="normal" >2.0</text>
<text transform="translate(421.60,616.00) scale(1.06,1)" font-size="18" text-anchor="middle" font-weight="normal" >2.5</text>
<text transform="translate(555.00,95.96) scale(1.06,1)" font-size="18" text-anchor="end" font-weight="normal" >0.0</text>
<text transform="translate(555.00,148.28) scale(1.06,1)" font-size="18" text-anchor="end" font-weight="normal" >−0.1</text>
<text transform="translate(555.00,200.60) scale(1.06,1)" font-size="18" text-anchor="end" font-weight="normal" >−0.2</text>
<text transform="translate(555.00,252.92) scale(1.06,1)" font-size="18" text-anchor="end" font-weight="normal" >−0.3</text>
<text transform="translate(555.00,305.24) scale(1.06,1)" font-size="18" text-anchor="end" font-weight="normal" >−0.4</text>
<text transform="translate(555.50,347.76) scale(1.06,1)" font-size="18" text-anchor="end" font-weight="normal" >0.0</text>
<text transform="translate(555.50,380.47) scale(1.06,1)" font-size="18" text-anchor="end" font-weight="normal" >−0.1</text>
<text transform="translate(555.50,413.18) scale(1.06,1)" font-size="18" text-anchor="end" font-weight="normal" >−0.2</text>
<text transform="translate(555.50,445.89) scale(1.06,1)" font-size="18" text-anchor="end" font-weight="normal" >−0.3</text>
<text transform="translate(555.50,478.61) scale(1.06,1)" font-size="18" text-anchor="end" font-weight="normal" >−0.4</text>
<text transform="translate(555.50,511.32) scale(1.06,1)" font-size="18" text-anchor="end" font-weight="normal" >−0.5</text>
<text transform="translate(555.50,544.03) scale(1.06,1)" font-size="18" text-anchor="end" font-weight="normal" >−0.6</text>
<text transform="translate(555.50,576.74) scale(1.06,1)" font-size="18" text-anchor="end" font-weight="normal" >−0.7</text>
<text transform="translate(600.10,616.00) scale(1.06,1)" font-size="18" text-anchor="middle" font-weight="normal" >0.0</text>
<text transform="translate(654.60,616.00) scale(1.06,1)" font-size="18" text-anchor="middle" font-weight="normal" >0.5</text>
<text transform="translate(710.40,616.00) scale(1.06,1)" font-size="18" text-anchor="middle" font-weight="normal" >1.0</text>
<text transform="translate(765.50,616.00) scale(1.06,1)" font-size="18" text-anchor="middle" font-weight="normal" >1.5</text>
<text transform="translate(820.80,616.00) scale(1.06,1)" font-size="18" text-anchor="middle" font-weight="normal" >2.0</text>
<text transform="translate(876.60,616.00) scale(1.06,1)" font-size="18" text-anchor="middle" font-weight="normal" >2.5</text>
<text transform="translate(932.20,616.00) scale(1.06,1)" font-size="18" text-anchor="middle" font-weight="normal" >3.0</text>
<text transform="translate(24.90,209.30) rotate(-90)" font-size="18.8" text-anchor="middle" textLength="65.5" lengthAdjust="spacing">μcal s<tspan dy="-7.5" font-size="13">−1</tspan></text>
<text transform="translate(500.60,202.30) rotate(-90)" font-size="18.8" text-anchor="middle" textLength="65.4" lengthAdjust="spacing">μcal s<tspan dy="-7.5" font-size="13">−1</tspan></text>
<text transform="translate(25.90,459.80) rotate(-90)" font-size="18.6" text-anchor="middle" textLength="184.7" lengthAdjust="spacing">kcal mol<tspan dy="-7.5" font-size="13">−1</tspan><tspan dy="7.5"> of injectant</tspan></text>
<text transform="translate(501.90,470.00) rotate(-90)" font-size="18.6" text-anchor="middle" textLength="183.6" lengthAdjust="spacing">kcal mol<tspan dy="-7.5" font-size="13">−1</tspan><tspan dy="7.5"> of injectant</tspan></text>
</g>
</svg></body></html>
